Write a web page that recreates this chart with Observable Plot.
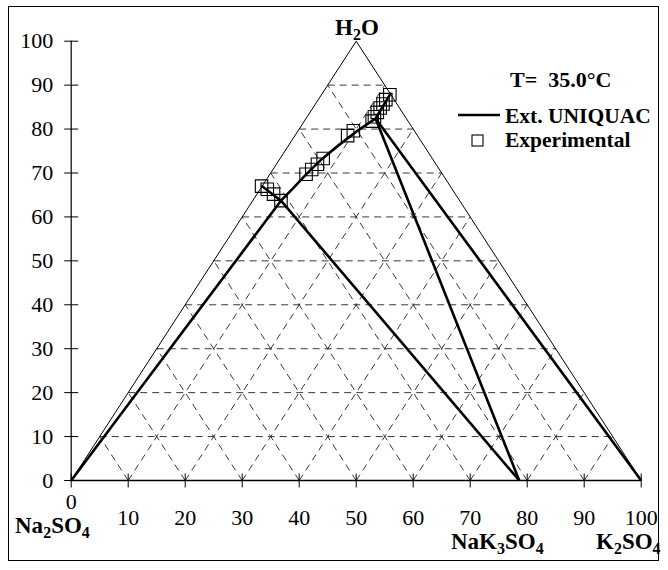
<!DOCTYPE html>
<html><head><meta charset="utf-8">
<script src="https://cdn.jsdelivr.net/npm/d3@7"></script>
<script src="https://cdn.jsdelivr.net/npm/@observablehq/plot@0.6"></script>
<style>
body{margin:0;background:#fff;}
#wrap{position:relative;width:668px;height:570px;}
#border{position:absolute;left:8px;top:6px;width:651px;height:555px;border:1.4px solid #000;box-sizing:border-box;pointer-events:none;}
svg text{font-family:"Liberation Serif","Times New Roman",serif;}
</style></head>
<body><div id="wrap"><div id="chart"></div><div id="border"></div></div>
<script>
// ---- data ----
const xTicks = [0,10,20,30,40,50,60,70,80,90,100];
const yTicks = [0,10,20,30,40,50,60,70,80,90,100];
const gridLevels = [10,20,30,40,50,60,70,80,90];
const triX = [0,50,100];
const triY = [0,100,0];
// Ext. UNIQUAC solubility curve (x = K2SO4 + H2O/2, y = H2O)
const curveX = [33.5,36.8,39.0,41.3,44.0,47.0,50.0,53.4,54.7,56.0];
const curveY = [67.0,63.7,66.6,69.8,73.2,76.4,79.4,82.4,85.2,88.0];
// Ext. UNIQUAC tie lines
const tieX1 = [0,36.8,78.6,53.4];
const tieY1 = [0,63.7,0,82.4];
const tieX2 = [36.8,78.6,53.4,100];
const tieY2 = [63.7,0,82.4,0];
// Experimental points
const expX = [33.4,34.4,35.5,36.8,41.2,42.2,43.2,44.2,48.5,49.5,52.8,53.2,53.7,54.2,54.7,55.2,55.9];
const expY = [67.0,66.3,65.2,63.7,69.7,70.8,72.0,73.3,78.5,79.6,81.8,82.8,83.8,84.8,85.7,86.7,87.8];
const seriesNames = ["Ext. UNIQUAC","Experimental"];
const tempLabel = "T=\u00a0 35.0°C";
const vertexLabels = ["H_2O","Na_2SO_4","NaK_3SO_4","K_2SO_4"];

// ---- derived tables ----
const grid = [];
for (const L of gridLevels) {
  grid.push({x1:L/2, y1:L, x2:100-L/2, y2:L});
  grid.push({x1:L, y1:0, x2:L+(100-L)/2, y2:100-L});
  grid.push({x1:100-L, y1:0, x2:(100-L)/2, y2:100-L});
}
const tri = triX.map((x,i)=>({x, y:triY[i]}));
const curve = curveX.map((x,i)=>({x, y:curveY[i]}));
const ties = tieX1.map((x,i)=>({x1:x, y1:tieY1[i], x2:tieX2[i], y2:tieY2[i]}));
const exp = expX.map((x,i)=>({x, y:expY[i]}));

const vTick = {draw(ctx,size){const h=Math.sqrt(size)/2;ctx.moveTo(0,-h);ctx.lineTo(0,h);}};
const hTick = {draw(ctx,size){const h=Math.sqrt(size)/2;ctx.moveTo(-h,0);ctx.lineTo(h,0);}};
const tickR = 14/Math.sqrt(Math.PI);

const chart = Plot.plot({
  width: 668, height: 570,
  marginLeft: 70.7, marginRight: 27.3, marginTop: 40.7, marginBottom: 90,
  x: {domain:[0,100], axis:null},
  y: {domain:[0,100], axis:null},
  style: {fontFamily:'"Liberation Serif","Times New Roman",serif', background:"#fff"},
  marks: [
    Plot.link(grid, {x1:"x1", y1:"y1", x2:"x2", y2:"y2", stroke:"#222", strokeWidth:0.9, strokeDasharray:"7,5"}),
    Plot.line(tri, {x:"x", y:"y", stroke:"#000", strokeWidth:1}),
    Plot.ruleX([0], {y1:0, y2:100, stroke:"#000", strokeWidth:1.2}),
    Plot.ruleY([0], {x1:0, x2:100, stroke:"#000", strokeWidth:1.6}),
    Plot.dot(xTicks, {x:d=>d, y:0, symbol:vTick, r:tickR, stroke:"#000", strokeWidth:1, fill:"none"}),
    Plot.dot(yTicks, {x:0, y:d=>d, symbol:hTick, r:tickR, stroke:"#000", strokeWidth:1, fill:"none"}),
    Plot.text(yTicks, {x:0, y:d=>d, text:d=>String(d), dx:-18, textAnchor:"end", fontSize:22, fill:"#000"}),
    Plot.text(xTicks.filter(d=>d>0), {x:d=>d, y:0, text:d=>String(d), dy:37, fontSize:22, fill:"#000"}),
    Plot.text(xTicks.filter(d=>d===0), {x:d=>d, y:0, text:d=>String(d), dy:21, fontSize:22, fill:"#000"}),
    Plot.link(ties, {x1:"x1", y1:"y1", x2:"x2", y2:"y2", stroke:"#000", strokeWidth:2.6}),
    Plot.line(curve, {x:"x", y:"y", stroke:"#000", strokeWidth:2.6}),
    Plot.dot(exp, {x:"x", y:"y", symbol:"square", r:12.5/Math.sqrt(Math.PI), stroke:"#000", strokeWidth:1.1, fill:"none"})
  ]
});
document.getElementById("chart").appendChild(chart);

// ---- labels with subscripts and legend ----
const svg = d3.select(chart);
function chemLabel(str, x, y, anchor){
  const t = svg.append("text").attr("x",x).attr("y",y).attr("text-anchor",anchor)
    .attr("font-weight","bold").attr("font-size",23).attr("fill","#000");
  const parts = str.split(/(_\d)/).filter(s=>s.length);
  let sub = false;
  for (const p of parts) {
    if (p[0]==="_") {
      t.append("tspan").attr("font-size",16).attr("dy",5).text(p.slice(1));
      sub = true;
    } else {
      t.append("tspan").attr("dy", sub ? -5 : 0).text(p);
      sub = false;
    }
  }
}
chemLabel(vertexLabels[0], 357, 35, "middle");
chemLabel(vertexLabels[1], 15, 533, "start");
chemLabel(vertexLabels[2], 451, 549, "start");
chemLabel(vertexLabels[3], 596, 549, "start");

svg.append("text").attr("x",510).attr("y",87).attr("text-anchor","start").attr("font-weight","bold").attr("font-size",22)
  .attr("fill","#000").style("white-space","pre").text(tempLabel);
svg.append("line").attr("x1",458).attr("x2",500).attr("y1",115).attr("y2",115)
  .attr("stroke","#000").attr("stroke-width",2.6);
svg.append("text").attr("x",505).attr("y",123).attr("text-anchor","start").attr("font-weight","bold").attr("font-size",21.5)
  .attr("fill","#000").text(seriesNames[0]);
svg.append("rect").attr("x",472).attr("y",135).attr("width",11).attr("height",11)
  .attr("fill","none").attr("stroke","#000").attr("stroke-width",1.1);
svg.append("text").attr("x",505).attr("y",147).attr("text-anchor","start").attr("font-weight","bold").attr("font-size",21.5)
  .attr("fill","#000").text(seriesNames[1]);
</script>
</body></html>
